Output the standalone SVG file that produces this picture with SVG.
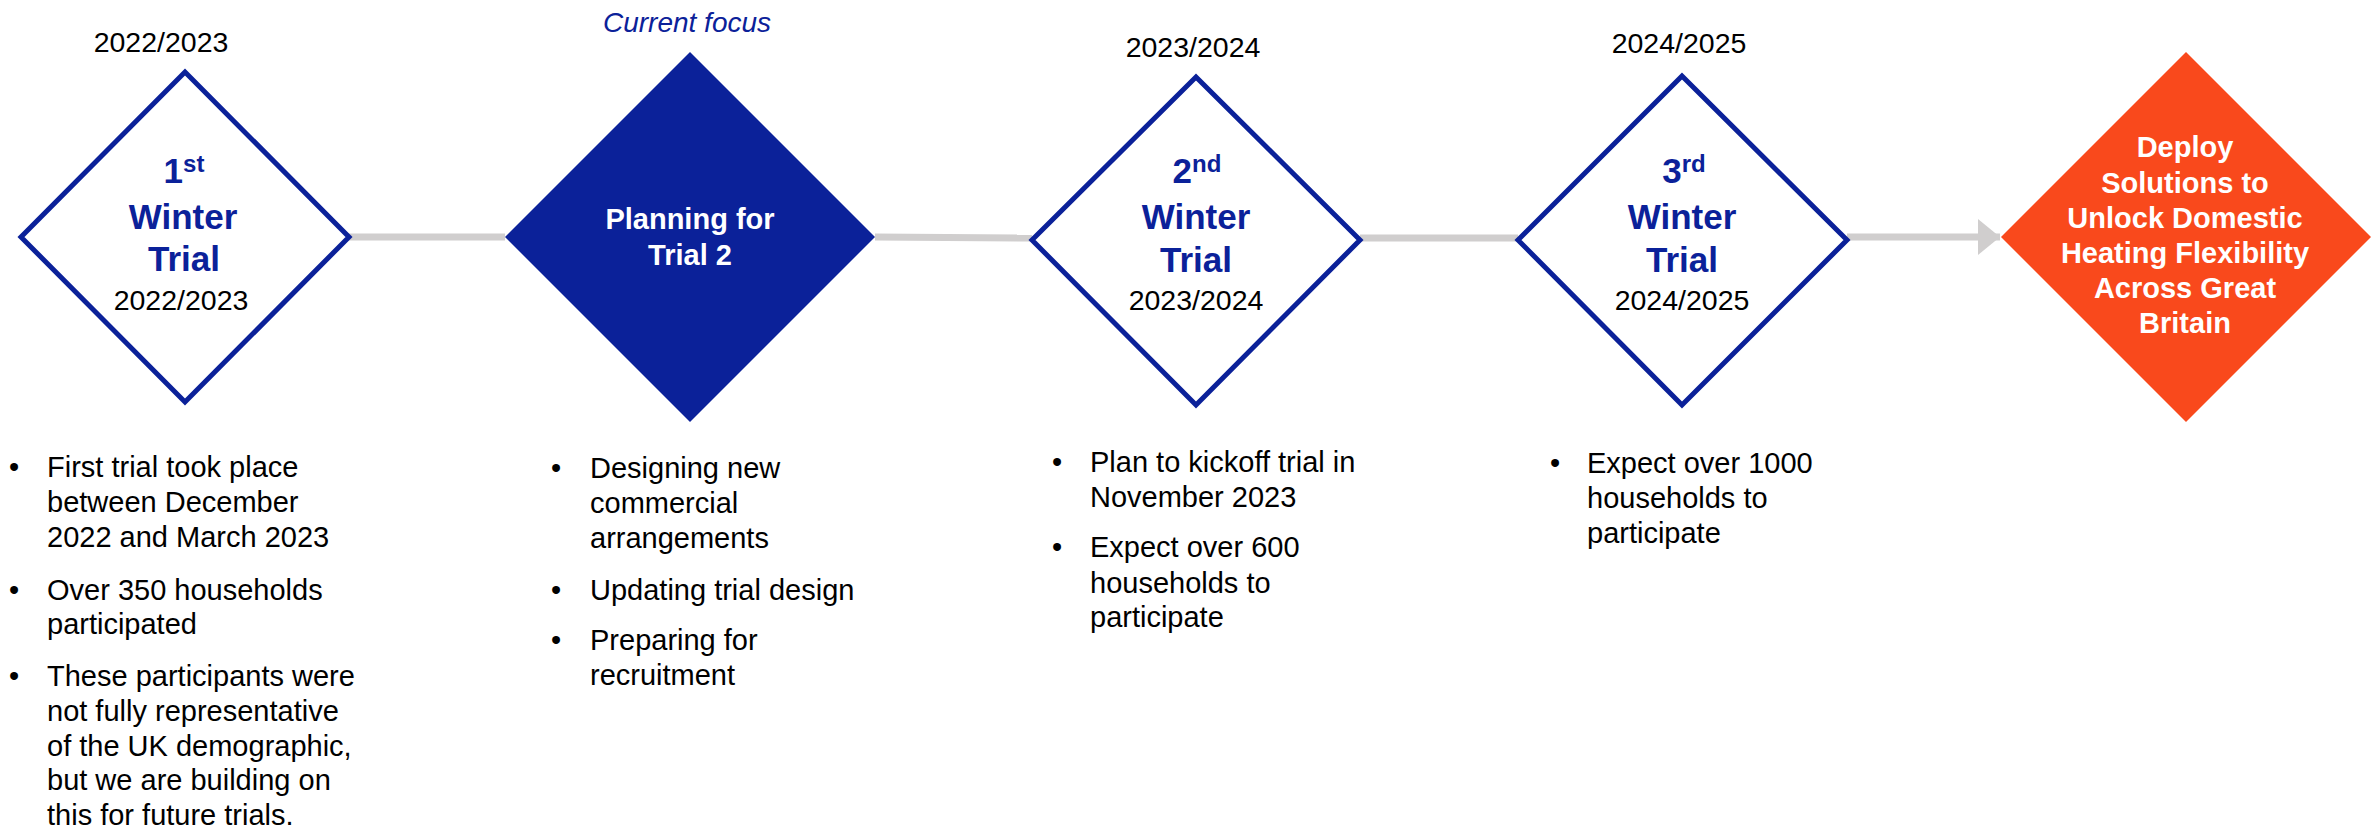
<svg xmlns="http://www.w3.org/2000/svg" width="2377" height="830" viewBox="0 0 2377 830">
<style>
text{font-family:"Liberation Sans",Arial,sans-serif}
.yr{font-size:28.5px;fill:#000;text-anchor:middle}
.big{font-size:35px;font-weight:bold;fill:#0B2199;text-anchor:middle}
.sup{font-size:24px}
.wt{font-size:29px;font-weight:bold;fill:#fff;text-anchor:middle}
.bl{font-size:29px;fill:#000}
.outline{fill:#fff;stroke:#0B2199;stroke-width:5}
.conn{stroke:#D0CECE;stroke-width:7;fill:none}
</style>
<defs>
<marker id="ah" markerUnits="userSpaceOnUse" markerWidth="24" markerHeight="38" refX="22" refY="18" orient="auto">
<path d="M0,0 L22,18 L0,36 Z" fill="#D0CECE"/>
</marker>
</defs>
<g id="connectors">
<line class="conn" x1="349" y1="237" x2="505" y2="237"/>
<line class="conn" x1="875" y1="237" x2="1032" y2="238"/>
<line class="conn" x1="1360" y1="238" x2="1518" y2="238"/>
<line class="conn" x1="1847" y1="237" x2="2000" y2="237" marker-end="url(#ah)"/>
</g>
<g id="trial1">
<text class="yr" x="161" y="52">2022/2023</text>
<polygon class="outline" points="21,237 185,72 349,237 185,402"/>
<text class="big" x="184" y="183">1<tspan class="sup" dy="-11">st</tspan></text>
<text class="big" x="183" y="229">Winter</text>
<text class="big" x="184" y="271">Trial</text>
<text class="yr" x="181" y="310">2022/2023</text>
</g>
<g id="planning">
<text x="687" y="32" font-size="28" font-style="italic" fill="#0B2199" text-anchor="middle">Current focus</text>
<polygon points="505,237 690,52 875,237 690,422" fill="#0B2199"/>
<text class="wt" x="690" y="229">Planning for</text>
<text class="wt" x="690" y="265">Trial 2</text>
</g>
<g id="trial2">
<text class="yr" x="1193" y="57">2023/2024</text>
<polygon class="outline" points="1032,240 1196,77 1360,240 1196,405"/>
<text class="big" x="1197" y="183">2<tspan class="sup" dy="-11">nd</tspan></text>
<text class="big" x="1196" y="229">Winter</text>
<text class="big" x="1196" y="272">Trial</text>
<text class="yr" x="1196" y="310">2023/2024</text>
</g>
<g id="trial3">
<text class="yr" x="1679" y="53">2024/2025</text>
<polygon class="outline" points="1518,240 1682,76 1847,240 1682,405"/>
<text class="big" x="1684" y="183">3<tspan class="sup" dy="-11">rd</tspan></text>
<text class="big" x="1682" y="229">Winter</text>
<text class="big" x="1682" y="272">Trial</text>
<text class="yr" x="1682" y="310">2024/2025</text>
</g>
<g id="deploy">
<polygon points="2001,237 2186,52 2371,237 2186,422" fill="#F9491C"/>
<text class="wt" x="2185" y="157">Deploy</text>
<text class="wt" x="2185" y="193">Solutions to</text>
<text class="wt" x="2185" y="228">Unlock Domestic</text>
<text class="wt" x="2185" y="263">Heating Flexibility</text>
<text class="wt" x="2185" y="298">Across Great</text>
<text class="wt" x="2185" y="333">Britain</text>
</g>
<g id="notes1">
<text class="bl" x="9" y="477">•</text>
<text class="bl" x="47" y="477">First trial took place</text>
<text class="bl" x="47" y="512">between December</text>
<text class="bl" x="47" y="547">2022 and March 2023</text>
<text class="bl" x="9" y="600">•</text>
<text class="bl" x="47" y="600">Over 350 households</text>
<text class="bl" x="47" y="634">participated</text>
<text class="bl" x="9" y="686">•</text>
<text class="bl" x="47" y="686">These participants were</text>
<text class="bl" x="47" y="721">not fully representative</text>
<text class="bl" x="47" y="756">of the UK demographic,</text>
<text class="bl" x="47" y="790">but we are building on</text>
<text class="bl" x="47" y="825">this for future trials.</text>
</g>
<g id="notes2">
<text class="bl" x="551" y="478">•</text>
<text class="bl" x="590" y="478">Designing new</text>
<text class="bl" x="590" y="513">commercial</text>
<text class="bl" x="590" y="548">arrangements</text>
<text class="bl" x="551" y="600">•</text>
<text class="bl" x="590" y="600">Updating trial design</text>
<text class="bl" x="551" y="650">•</text>
<text class="bl" x="590" y="650">Preparing for</text>
<text class="bl" x="590" y="685">recruitment</text>
</g>
<g id="notes3">
<text class="bl" x="1052" y="472">•</text>
<text class="bl" x="1090" y="472">Plan to kickoff trial in</text>
<text class="bl" x="1090" y="507">November 2023</text>
<text class="bl" x="1052" y="557">•</text>
<text class="bl" x="1090" y="557">Expect over 600</text>
<text class="bl" x="1090" y="593">households to</text>
<text class="bl" x="1090" y="627">participate</text>
</g>
<g id="notes4">
<text class="bl" x="1550" y="473">•</text>
<text class="bl" x="1587" y="473">Expect over 1000</text>
<text class="bl" x="1587" y="508">households to</text>
<text class="bl" x="1587" y="543">participate</text>
</g>
</svg>
